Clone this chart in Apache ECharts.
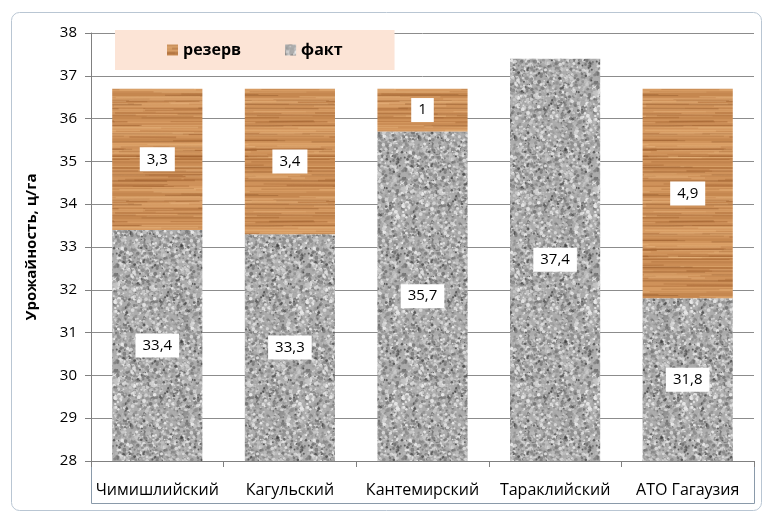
<!DOCTYPE html>
<html>
<head>
<meta charset="utf-8">
<script src="https://cdn.jsdelivr.net/npm/echarts@6/dist/echarts.min.js"></script>
<style>
  html, body { margin: 0; padding: 0; background: #fff; }
  #main { width: 770px; height: 515px; }
</style>
</head>
<body>
<div id="main"></div>
<script>
// районы
var categories = ["Чимишлийский", "Кагульский", "Кантемирский", "Тараклийский", "АТО Гагаузия"];
// урожайность факт, ц/га
var factValues = [33.4, 33.3, 35.7, 37.4, 31.8];
// резерв, ц/га (у Тараклийского нет)
var reserveValues = [3.3, 3.4, 1, null, 4.9];
var yTicks = { min: 28, max: 38, interval: 1 };

// простой генератор для текстуры (не данные)
function lcg(seed) {
  var s = seed;
  return function () {
    s = (s * 1664525 + 1013904223) % 4294967296;
    return s / 4294967296;
  };
}

// гранит
function makeGranite() {
  var c = document.createElement("canvas");
  c.width = 96; c.height = 96;
  var ctx = c.getContext("2d");
  var rnd = lcg(12345);
  ctx.fillStyle = "#acacac";
  ctx.fillRect(0, 0, 96, 96);
  for (var i = 0; i < 2200; i++) {
    var g = Math.floor(110 + rnd() * 130);
    ctx.fillStyle = "rgba(" + g + "," + g + "," + g + ",0.85)";
    var r = 0.6 + rnd() * 1.4;
    var x = rnd() * 96, y = rnd() * 96;
    // рисуем с переносом, чтобы не было шва
    for (var dx = -96; dx <= 96; dx += 96) {
      for (var dy = -96; dy <= 96; dy += 96) {
        ctx.beginPath();
        ctx.arc(x + dx, y + dy, r, 0, Math.PI * 2);
        ctx.fill();
      }
    }
  }
  for (var j = 0; j < 90; j++) {
    ctx.fillStyle = "rgba(60,60,60,0.7)";
    ctx.beginPath();
    ctx.arc(rnd() * 96, rnd() * 96, 0.6 + rnd() * 0.8, 0, Math.PI * 2);
    ctx.fill();
  }
  return c;
}

// дерево
function makeWood() {
  var W = 200, H = 100;
  var c = document.createElement("canvas");
  c.width = W; c.height = H;
  var ctx = c.getContext("2d");
  var rnd = lcg(777);
  ctx.fillStyle = "#cf925a";
  ctx.fillRect(0, 0, W, H);
  // широкие светлые/тёмные полосы
  for (var b = 0; b < 14; b++) {
    var yb = rnd() * H;
    var light = rnd() < 0.5;
    ctx.fillStyle = light ? "rgba(228,172,115,0.35)" : "rgba(176,108,55,0.3)";
    ctx.fillRect(0, yb, W, 2 + rnd() * 5);
  }
  // тонкие волокна, с переносом по x
  for (var k = 0; k < 120; k++) {
    var t = rnd();
    var col;
    if (t < 0.45) col = "rgba(160,95,45,0.4)";
    else if (t < 0.8) col = "rgba(235,185,130,0.4)";
    else col = "rgba(135,78,35,0.35)";
    ctx.strokeStyle = col;
    ctx.lineWidth = 0.7 + rnd() * 0.9;
    var y = rnd() * H;
    var x0 = rnd() * W;
    var len = 40 + rnd() * 140;
    var dy = (rnd() - 0.5) * 1.5;
    for (var off = -W; off <= 0; off += W) {
      ctx.beginPath();
      ctx.moveTo(x0 + off, y);
      ctx.lineTo(x0 + off + len, y + dy);
      ctx.stroke();
    }
  }
  return c;
}

var granite = { image: makeGranite(), repeat: "repeat" };
var wood = { image: makeWood(), repeat: "repeat" };

function fmt(p) {
  return String(p.value).replace(".", ",");
}

var labelStyle = {
  show: true,
  position: "inside",
  backgroundColor: "#fff",
  padding: [5, 7, 4, 7],
  color: "#000",
  fontSize: 15,
  fontFamily: "Open Sans",
  formatter: fmt
};

var chart = echarts.init(document.getElementById("main"));
var option = {
  animation: false,
  textStyle: { fontFamily: "Open Sans" },
  graphic: [
    {
      type: "rect",
      shape: { x: 11.5, y: 12.5, width: 750, height: 498, r: 8 },
      style: { fill: "none", stroke: "#b9c6d3", lineWidth: 1 },
      silent: true
    },
    {
      type: "polyline",
      shape: { points: [[91.5, 461], [91.5, 503.5], [754.5, 503.5], [754.5, 461]] },
      style: { fill: "none", stroke: "#8a9aaa", lineWidth: 1 },
      silent: true
    }
  ],
  legend: {
    data: ["резерв", "факт"],
    icon: "rect",
    left: 115,
    top: 30,
    padding: [12, 52, 12, 52],
    itemGap: 44,
    itemWidth: 11,
    itemHeight: 11,
    backgroundColor: "#fce4d6",
    textStyle: { fontSize: 16, fontWeight: "bold", color: "#000" }
  },
  grid: { left: 91, right: 16, top: 33, bottom: 54 },
  xAxis: {
    type: "category",
    data: categories,
    axisLine: { lineStyle: { color: "#808080" } },
    axisTick: { show: true, length: 6, lineStyle: { color: "#808080" } },
    axisLabel: { color: "#000", fontSize: 16, margin: 21, interval: 0 }
  },
  yAxis: {
    type: "value",
    min: yTicks.min,
    max: yTicks.max,
    interval: yTicks.interval,
    name: "Урожайность, ц/га",
    nameLocation: "middle",
    nameGap: 52,
    nameTextStyle: { fontSize: 15, fontWeight: "bold", color: "#000" },
    axisLine: { show: true, lineStyle: { color: "#808080" } },
    axisTick: { show: true, length: 6, lineStyle: { color: "#808080" } },
    axisLabel: { color: "#000", fontSize: 15, margin: 14 },
    splitLine: { lineStyle: { color: "#8c8c8c" } }
  },
  series: [
    {
      name: "факт",
      type: "bar",
      stack: "total",
      barCategoryGap: "32%",
      data: factValues,
      itemStyle: { color: granite },
      label: labelStyle
    },
    {
      name: "резерв",
      type: "bar",
      stack: "total",
      data: reserveValues,
      itemStyle: { color: wood },
      label: labelStyle
    }
  ]
};
option && chart.setOption(option);
</script>
</body>
</html>
